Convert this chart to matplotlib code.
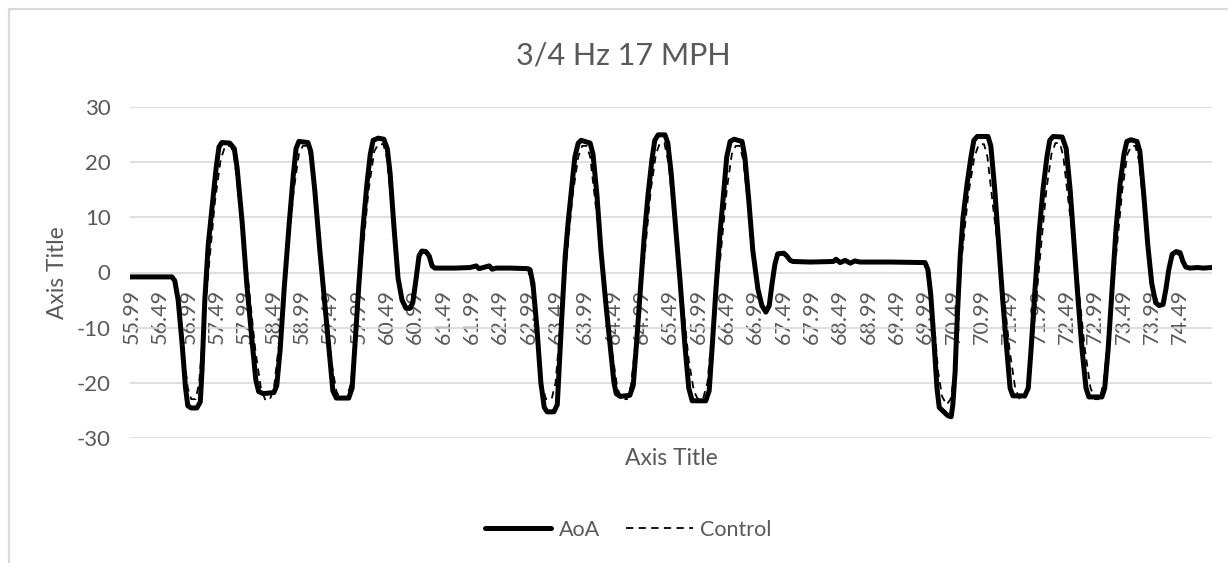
import matplotlib
matplotlib.use("Agg")
import matplotlib.pyplot as plt
from matplotlib.lines import Line2D

plt.rcParams['font.family'] = ['Lato', 'DejaVu Sans']

TEXT = '#595959'
GRID = '#d9d9d9'

# Angle of attack (deg) against time (s)
aoa_time = [
    55.96, 56.70, 56.75, 56.81, 56.88, 56.94, 56.98, 57.04, 57.14, 57.20,
    57.23, 57.28, 57.34, 57.41, 57.48, 57.53, 57.58, 57.72, 57.80, 57.85,
    57.94, 58.02, 58.11, 58.18, 58.23, 58.31, 58.50, 58.55, 58.61, 58.68,
    58.77, 58.84, 58.89, 58.94, 59.10, 59.15, 59.22, 59.31, 59.40, 59.49,
    59.54, 59.60, 59.82, 59.88, 59.93, 60.00, 60.07, 60.14, 60.20, 60.25,
    60.34, 60.44, 60.50, 60.55, 60.62, 60.69, 60.76, 60.83, 60.90, 60.95,
    61.01, 61.06, 61.11, 61.18, 61.24, 61.29, 61.34, 61.70, 61.96, 62.07,
    62.12, 62.19, 62.30, 62.35, 62.42, 62.67, 62.98,
    63.02, 63.07, 63.14, 63.21, 63.27, 63.32, 63.44, 63.50, 63.53, 63.58,
    63.64, 63.69, 63.76, 63.81, 63.87, 63.92, 64.08, 64.13, 64.20, 64.27,
    64.36, 64.45, 64.50, 64.54, 64.61, 64.78, 64.84, 64.89, 64.96, 65.03,
    65.10, 65.17, 65.22, 65.28, 65.40, 65.45, 65.51, 65.59, 65.67, 65.75,
    65.82, 65.88, 66.12, 66.18, 66.23, 66.30, 66.37, 66.44, 66.49, 66.55,
    66.62, 66.76, 66.81, 66.88, 66.95, 67.04, 67.11, 67.18, 67.24, 67.29,
    67.34, 67.39, 67.50, 67.55, 67.61, 67.66, 67.96, 68.37, 68.42, 68.49,
    68.58, 68.67, 68.75, 68.84, 69.37, 69.99,
    70.04, 70.09, 70.15, 70.20, 70.24, 70.31, 70.39, 70.45, 70.48, 70.52,
    70.55, 70.61, 70.66, 70.73, 70.80, 70.85, 70.91, 71.10, 71.15, 71.22,
    71.29, 71.36, 71.44, 71.49, 71.54, 71.75, 71.81, 71.86, 71.93, 72.00,
    72.07, 72.14, 72.19, 72.25, 72.41, 72.48, 72.55, 72.62, 72.69, 72.76,
    72.83, 72.88, 73.11, 73.16, 73.22, 73.29, 73.36, 73.43, 73.50, 73.55,
    73.62, 73.73, 73.78, 73.85, 73.92, 73.99, 74.06, 74.12, 74.19, 74.24,
    74.29, 74.35, 74.42, 74.49, 74.54, 74.59, 74.66, 74.80, 74.90, 75.04,
]
aoa_value = [
    -0.8, -0.8, -1.5, -5, -13, -21, -24.2, -24.6, -24.6, -23.5,
    -18, -5, 5, 12, 19, 22.8, 23.6, 23.5, 22.5, 19,
    9, -2, -12, -19.5, -21.6, -22, -21.8, -20.5, -14, -3,
    9, 17.5, 22.5, 23.8, 23.6, 22, 15, 4, -6, -16,
    -21.5, -22.8, -22.8, -21, -13, -2, 8, 16, 21.5, 24,
    24.4, 24.2, 22.5, 18, 8, -1, -5, -6.5, -6.5, -5.5,
    -1, 3, 3.9, 3.8, 3, 1.2, 0.8, 0.8, 0.9, 1.2,
    0.7, 0.9, 1.2, 0.6, 0.8, 0.8, 0.7,
    0.5, -2, -10, -20, -24.5, -25.3, -25.3, -24, -18, -8,
    3, 9, 16, 21, 23.5, 24, 23.5, 21.5, 14, 4,
    -6, -15, -20, -22, -22.5, -22.3, -20.5, -14, -4, 6,
    14, 20.5, 24, 25, 25, 23.5, 18, 8, -2, -13,
    -21, -23.3, -23.3, -21.5, -14, -3, 7, 15, 21, 23.8,
    24.2, 23.8, 21, 13, 4, -3, -6, -7.2, -6, -2,
    1.5, 3.4, 3.5, 3, 2.2, 2.0, 1.9, 2.0, 2.4, 1.8,
    2.2, 1.7, 2.1, 1.9, 1.9, 1.8,
    0.5, -4, -13, -21, -24.5, -25.2, -26, -26.2, -24, -18,
    -10, 3, 10, 16, 21, 24, 24.7, 24.7, 23, 15,
    5, -5, -15, -21, -22.4, -22.4, -21, -14, -3, 7,
    15, 21, 24, 24.7, 24.6, 22.5, 15, 5, -5, -14,
    -21, -22.6, -22.6, -21, -14, -3, 8, 16, 21.5, 23.8,
    24.1, 23.8, 22, 14, 5, -2, -5.5, -6, -5.8, -3,
    0.5, 3.3, 3.8, 3.6, 2, 1, 0.8, 0.9, 0.8, 0.9,
]

# Commanded (control) angle against time (s)
control_time = [
    55.96, 56.72, 56.80, 56.90, 56.98, 57.04, 57.12, 57.18, 57.26, 57.36,
    57.46, 57.56, 57.64, 57.74, 57.80, 57.90, 58.05, 58.17, 58.27, 58.35,
    58.43, 58.50, 58.60, 58.74, 58.85, 58.94, 59.01, 59.10, 59.16, 59.26,
    59.39, 59.51, 59.60, 59.67, 59.78, 59.86, 59.94, 60.06, 60.17, 60.27,
    60.34, 60.43, 60.49, 60.58, 60.67, 60.75, 60.84, 60.91, 60.97, 61.04,
    61.10, 61.19, 61.26, 61.33, 61.40, 62.98,
    63.06, 63.15, 63.23, 63.30, 63.40, 63.47, 63.55, 63.66, 63.77, 63.87,
    63.94, 64.02, 64.08, 64.18, 64.34, 64.46, 64.56, 64.64, 64.73, 64.80,
    64.90, 65.04, 65.15, 65.24, 65.31, 65.39, 65.46, 65.56, 65.70, 65.82,
    65.91, 65.98, 66.07, 66.15, 66.24, 66.38, 66.49, 66.58, 66.65, 66.72,
    66.78, 66.87, 66.96, 67.05, 67.12, 67.19, 67.25, 67.31, 67.37, 67.43,
    67.51, 67.57, 67.64, 69.99,
    70.07, 70.14, 70.22, 70.29, 70.37, 70.44, 70.50, 70.57, 70.63, 70.75,
    70.86, 70.94, 71.03, 71.09, 71.20, 71.37, 71.48, 71.58, 71.66, 71.74,
    71.81, 71.90, 72.02, 72.13, 72.22, 72.29, 72.37, 72.43, 72.53, 72.69,
    72.81, 72.91, 72.99, 73.07, 73.14, 73.23, 73.36, 73.47, 73.56, 73.63,
    73.70, 73.76, 73.85, 73.94, 74.02, 74.10, 74.17, 74.24, 74.30, 74.36,
    74.44, 74.51, 74.58, 74.66, 75.04,
]
control_value = [
    -0.8, -0.8, -4, -14, -21, -23, -23, -20, -10, 2,
    13, 20.5, 23, 23, 21, 12, -2, -14, -21, -23.2,
    -23, -21, -12, 3, 15, 21.5, 23, 23, 20, 10,
    -4, -16, -21.5, -23, -23, -20, -11, 3, 15, 22,
    23.3, 23.3, 21, 12, 1, -4, -6.2, -6.2, -3, 1.5,
    3.5, 3.6, 2.5, 0.9, 0.8, 0.8,
    -3, -13, -20.5, -23, -23, -20, -10, 2, 14, 21,
    23, 23, 21, 12, -2, -14, -21, -23, -23, -20.5,
    -11, 3, 15, 21.5, 23.5, 23.5, 20, 10, -4, -16,
    -21.5, -23, -23, -20, -10, 3, 15, 21.5, 23, 23,
    20.5, 12, 2, -4, -6.5, -7, -5, -1, 2.8, 3.4,
    3.4, 2.6, 1.9, 1.9,
    0, -8, -18, -22.5, -24, -23, -19, -8, 2, 14,
    21, 23.3, 23.3, 21, 11, -3, -14, -21, -23, -23,
    -20, -11, 3, 15, 21.5, 23.5, 23.5, 21, 12, -2,
    -14, -21, -23, -23, -20, -11, 3, 15, 21.5, 23,
    23, 20.5, 12, 2, -3.5, -5.5, -5.5, -3, 1, 3.3,
    3.5, 2.5, 1.2, 0.8, 0.9,
]

# Category labels along the time axis
tick_values = [
    55.99, 56.49, 56.99, 57.49, 57.99, 58.49, 58.99, 59.49, 59.99, 60.49,
    60.99, 61.49, 61.99, 62.49, 62.99, 63.49, 63.99, 64.49, 64.99, 65.49,
    65.99, 66.49, 66.99, 67.49, 67.99, 68.49, 68.99, 69.49, 69.99, 70.49,
    70.99, 71.49, 71.99, 72.49, 72.99, 73.49, 73.99, 74.49,
]
y_ticks = [-30, -20, -10, 0, 10, 20, 30]

W, H = 1228, 563
fig = plt.figure(figsize=(W / 100, H / 100), dpi=100)
fig.patch.set_facecolor('white')

# chart frame (left and top edges)
fig.add_artist(Line2D([8.5 / W, 8.5 / W, 1.0], [0.0, 1 - 9 / H, 1 - 9 / H],
                      transform=fig.transFigure, color=GRID, lw=1.6))

ax = fig.add_axes([130 / W, 1 - 437.7 / H, 1082 / W, 330.4 / H])
ax.set_xlim(55.96, 75.053)
ax.set_ylim(-30, 30)

ax.plot(aoa_time, aoa_value, color='black', lw=3.6, solid_joinstyle='round',
        solid_capstyle='round', zorder=3)
ax.plot(control_time, control_value, color='black', lw=1.3,
        dashes=(4, 3), zorder=4)

ax.set_yticks(y_ticks)
ax.set_yticklabels([str(v) for v in y_ticks])
ax.grid(axis='y', color=GRID, lw=1.2)
ax.set_axisbelow(True)
for s in ax.spines.values():
    s.set_visible(False)

ax.spines['bottom'].set_position(('data', 0))
ax.set_xticks(tick_values)
ax.set_xticklabels([f"{v:.2f}" for v in tick_values], rotation=90)
ax.tick_params(axis='x', length=0, pad=12, labelsize=15.5, labelcolor=TEXT)
ax.tick_params(axis='y', length=0, pad=14, labelsize=16, labelcolor=TEXT)
for lbl in ax.get_xticklabels():
    lbl.set_va('top')
    lbl.set_ha('center')

fig.text(623.5 / W, 1 - 65 / H, '3/4 Hz 17 MPH', ha='center', va='baseline',
         fontsize=22, color=TEXT)
fig.text(671 / W, 1 - 465 / H, 'Axis Title', ha='center', va='baseline',
         fontsize=16.5, color=TEXT)
fig.text(57 / W, 1 - 272.5 / H, 'Axis Title', ha='center', va='center',
         rotation=90, fontsize=16.5, color=TEXT)

handles = [
    Line2D([], [], color='black', lw=3.6, solid_capstyle='round'),
    Line2D([], [], color='black', lw=1.3, dashes=(4, 3)),
]
leg = fig.legend(handles, ['AoA', 'Control'], loc='center',
                 bbox_to_anchor=(628 / W, 1 - 530 / H), ncol=2, frameon=False,
                 fontsize=15.5, handlelength=3.1, handletextpad=0.35,
                 columnspacing=1.2)
for t in leg.get_texts():
    t.set_color(TEXT)

fig.savefig('out.png', dpi=100, facecolor='white')
